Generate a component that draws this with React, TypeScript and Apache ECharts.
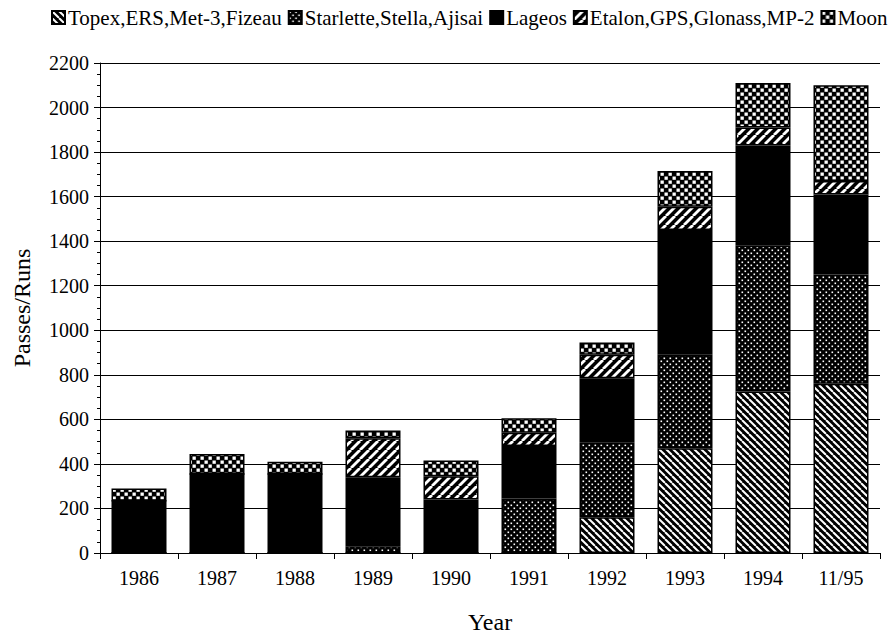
import React, { useEffect, useRef } from "react";
import * as echarts from "echarts";

const years = ["1986", "1987", "1988", "1989", "1990", "1991", "1992", "1993", "1994", "11/95"];
const seriesNames = ["Topex,ERS,Met-3,Fizeau", "Starlette,Stella,Ajisai", "Lageos", "Etalon,GPS,Glonass,MP-2", "Moon"];
const topex = [0, 0, 0, 0, 0, 0, 160, 470, 725, 760];
const starlette = [0, 0, 0, 30, 0, 245, 335, 420, 655, 490];
const lageos = [235, 355, 355, 310, 240, 235, 290, 560, 450, 360];
const etalon = [0, 0, 0, 175, 105, 60, 105, 105, 80, 60];
const moon = [55, 90, 55, 35, 70, 65, 55, 160, 200, 430];
const yTicks = { min: 0, max: 2200, interval: 200 };

const FONT = "Liberation Serif";

function makePattern(w: number, h: number, draw: (ctx: CanvasRenderingContext2D, w: number, h: number) => void): any {
  const c = document.createElement("canvas");
  c.width = w;
  c.height = h;
  const ctx = c.getContext("2d") as CanvasRenderingContext2D;
  ctx.fillStyle = "#000";
  ctx.fillRect(0, 0, w, h);
  ctx.fillStyle = "#fff";
  ctx.strokeStyle = "#fff";
  draw(ctx, w, h);
  return { image: c.toDataURL(), repeat: "repeat", imageWidth: w, imageHeight: h };
}

export default function App() {
  const ref = useRef<HTMLDivElement>(null);
  useEffect(() => {
    if (!ref.current) return;
    const chart = echarts.init(ref.current, undefined, { renderer: "svg" });

    const backslash = makePattern(7, 7, (ctx, s) => {
      ctx.lineWidth = 2;
      for (const k of [-s, 0, s]) {
        ctx.beginPath();
        ctx.moveTo(k, 0);
        ctx.lineTo(k + s, s);
        ctx.stroke();
      }
    });
    const slash = makePattern(9, 9, (ctx, s) => {
      ctx.lineWidth = 2.8;
      for (const k of [-s, 0, s]) {
        ctx.beginPath();
        ctx.moveTo(k, s);
        ctx.lineTo(k + s, 0);
        ctx.stroke();
      }
    });
    const dots = makePattern(6, 6, (ctx) => {
      ctx.fillRect(0.5, 0.5, 1.6, 1.6);
      ctx.fillRect(3.5, 3.5, 1.6, 1.6);
    });
    const checker = makePattern(8, 8, (ctx) => {
      ctx.fillRect(0.5, 0.5, 3.3, 3.3);
      ctx.fillRect(4.5, 4.5, 3.3, 3.3);
    });
    const fills: any[] = [backslash, dots, "#000", slash, checker];
    const datas = [topex, starlette, lageos, etalon, moon];

    chart.setOption({
      animation: false,
      backgroundColor: "#fff",
      textStyle: { fontFamily: FONT, color: "#000" },
      legend: {
        left: 46,
        top: 2,
        width: 849,
        itemWidth: 13,
        itemHeight: 13,
        itemGap: 6,
        icon: "rect",
        textStyle: { fontFamily: FONT, fontSize: 21, color: "#000", padding: [0, 0, 0, -2] },
        data: seriesNames,
      },
      grid: { left: 100, right: 15, top: 63, bottom: 79, containLabel: false },
      xAxis: {
        type: "category",
        data: years,
        name: "Year",
        nameLocation: "middle",
        nameGap: 57,
        nameTextStyle: { fontFamily: FONT, fontSize: 24, color: "#000" },
        axisLine: { lineStyle: { color: "#000", width: 1 } },
        axisTick: { show: true, alignWithLabel: false, length: 6, lineStyle: { color: "#000" } },
        axisLabel: { fontFamily: FONT, fontSize: 20, color: "#000", margin: 15 },
      },
      yAxis: {
        type: "value",
        min: yTicks.min,
        max: yTicks.max,
        interval: yTicks.interval,
        name: "Passes/Runs",
        nameLocation: "middle",
        nameGap: 66,
        nameTextStyle: { fontFamily: FONT, fontSize: 24, color: "#000" },
        axisLine: { show: true, lineStyle: { color: "#000", width: 1 } },
        axisTick: { show: true, length: 6, lineStyle: { color: "#000" } },
        minorTick: { show: true, splitNumber: 4, length: 3, lineStyle: { color: "#000" } },
        splitLine: { show: true, lineStyle: { color: "#000", width: 1 } },
        axisLabel: { fontFamily: FONT, fontSize: 20, color: "#000", margin: 11, formatter: (v: number) => String(v) },
      },
      series: seriesNames.map((name, i) => ({
        name,
        type: "bar",
        stack: "total",
        barWidth: 55,
        data: datas[i],
        itemStyle: { color: fills[i], borderColor: "#000", borderWidth: 1.5 },
      })),
    });
    return () => chart.dispose();
  }, []);
  return <div ref={ref} style={{ width: 895, height: 639, position: "absolute", left: 0, top: 0 }} />;
}
